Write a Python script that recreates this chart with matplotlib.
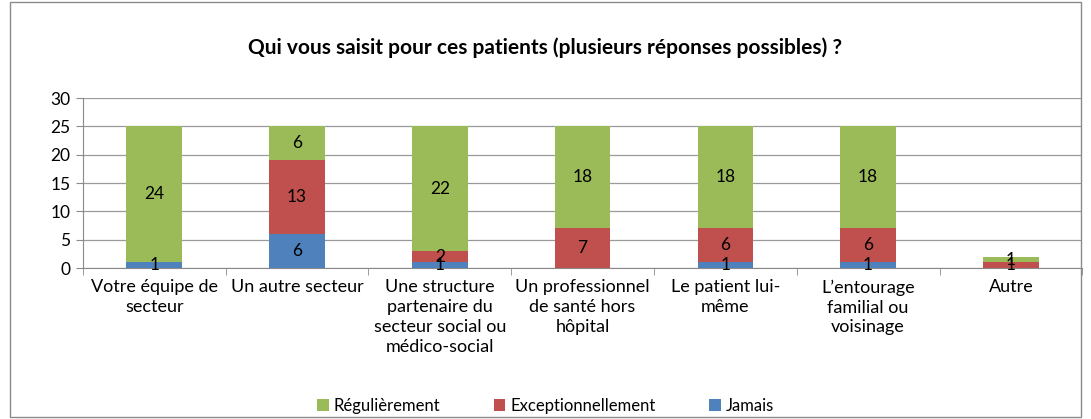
import matplotlib.pyplot as plt
import numpy as np
from matplotlib.patches import Rectangle

categories = ["Votre équipe de\nsecteur", "Un autre secteur",
              "Une structure\npartenaire du\nsecteur social ou\nmédico-social",
              "Un professionnel\nde santé hors\nhôpital", "Le patient lui-\nmême",
              "L\u2019entourage\nfamilial ou\nvoisinage", "Autre"]
jamais = [1, 6, 1, 0, 1, 1, 0]
exceptionnellement = [0, 13, 2, 7, 6, 6, 1]
regulierement = [24, 6, 22, 18, 18, 18, 1]

plt.rcParams['font.family'] = ['Lato', 'DejaVu Sans']

fig = plt.figure(figsize=(10.91, 4.19), dpi=100)
ax = fig.add_axes([0.076, 0.36, 0.916, 0.406])

x = np.arange(len(categories))
w = 0.39
series = [("Jamais", jamais, "#4F81BD"),
          ("Exceptionnellement", exceptionnellement, "#C0504D"),
          ("Régulièrement", regulierement, "#9BBB59")]
bottom = np.zeros(len(categories))
handles = {}
for name, vals, col in series:
    vals = np.array(vals, dtype=float)
    b = ax.bar(x, vals, w, bottom=bottom, color=col, zorder=3)
    handles[name] = b
    for xi, v, bt in zip(x, vals, bottom):
        if v > 0:
            ax.text(xi, bt + v / 2, f"{int(v)}", ha='center', va='center',
                    fontsize=12.5, color='black', zorder=4)
    bottom += vals

ax.set_xlim(-0.5, len(categories) - 0.5)
ax.set_ylim(0, 30)
ax.set_yticks(range(0, 31, 5))
ax.yaxis.grid(True, color='#9a9a9a', linewidth=0.9, zorder=0)
ax.set_axisbelow(True)
ax.set_xticks(x)
ax.set_xticklabels(categories, fontsize=13, linespacing=1.3)
ax.set_xticks(np.arange(-0.5, len(categories), 1), minor=True)
ax.tick_params(axis='x', which='major', length=0, pad=8)
ax.tick_params(axis='x', which='minor', length=5, color='#8a8a8a', direction='out')
ax.tick_params(axis='y', length=5, color='#8a8a8a', labelsize=12.5, pad=4)
for s in ['top', 'right']:
    ax.spines[s].set_visible(False)
for s in ['left', 'bottom']:
    ax.spines[s].set_color('#8a8a8a')

fig.text(0.5, 0.885, "Qui vous saisit pour ces patients (plusieurs réponses possibles) ?",
         ha='center', va='center', fontsize=15, fontweight='bold')

fig.legend([handles["Régulièrement"], handles["Exceptionnellement"], handles["Jamais"]],
           ["Régulièrement", "Exceptionnellement", "Jamais"],
           loc='center', bbox_to_anchor=(0.5, 0.032), ncol=3, frameon=False,
           fontsize=12, handlelength=0.7, handleheight=0.7, columnspacing=3.2,
           handletextpad=0.3)

fig.patches.append(Rectangle((0.009, 0.005), 0.982, 0.99, transform=fig.transFigure,
                             fill=False, edgecolor='#8a8a8a', linewidth=1))

fig.savefig("out.png", dpi=100)
